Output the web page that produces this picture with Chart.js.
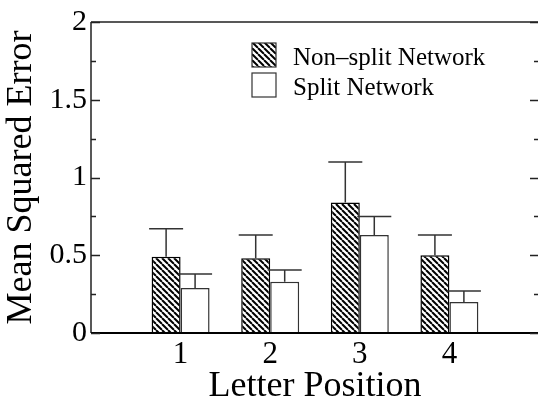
<!DOCTYPE html>
<html>
<head>
<meta charset="utf-8">
<script src="https://cdn.jsdelivr.net/npm/chart.js@4.4.0/dist/chart.umd.min.js"></script>
<style>
html, body { margin: 0; padding: 0; background: #fff; overflow: hidden; }
#wrap { width: 545px; height: 403px; }
</style>
</head>
<body>
<div id="wrap"><canvas id="grafico" width="545" height="403"></canvas></div>
<script>
const posiciones = ['', '1', '2', '3', '4', ''];
const noDividida = [null, 0.49, 0.48, 0.84, 0.50, null];
const noDivididaErr = [null, 0.18, 0.15, 0.26, 0.13, null];
const dividida = [null, 0.29, 0.33, 0.63, 0.20, null];
const divididaErr = [null, 0.09, 0.075, 0.12, 0.07, null];
const yMayores = [0, 0.5, 1, 1.5, 2];
const yMenores = [0.25, 0.75, 1.25, 1.75];
const etiquetas = ['Non\u2013split Network', 'Split Network'];

const fuente = '"Liberation Serif", "Times New Roman", serif';
const canvas = document.getElementById('grafico');
const ctxMain = canvas.getContext('2d');

function rayado() {
  const s = 6;
  const c = document.createElement('canvas');
  c.width = s; c.height = s;
  const g = c.getContext('2d');
  g.fillStyle = '#fff';
  g.fillRect(0, 0, s, s);
  g.strokeStyle = '#000';
  g.lineWidth = 2;
  for (let k = -1; k <= 1; k++) {
    g.beginPath();
    g.moveTo(k * s, 0);
    g.lineTo(k * s + s, s);
    g.stroke();
  }
  return ctxMain.createPattern(c, 'repeat');
}
const patron = rayado();

const barrasError = {
  id: 'barrasError',
  afterDatasetsDraw(chart) {
    const ctx = chart.ctx;
    const y = chart.scales.y;
    const errores = [noDivididaErr, divididaErr];
    ctx.save();
    ctx.strokeStyle = '#333';
    ctx.lineWidth = 1.5;
    errores.forEach((errs, d) => {
      const meta = chart.getDatasetMeta(d);
      meta.data.forEach((bar, i) => {
        if (errs[i] == null) return;
        const v = chart.data.datasets[d].data[i];
        const yTop = y.getPixelForValue(v + errs[i]);
        const half = 17;
        ctx.beginPath();
        ctx.moveTo(bar.x, bar.y);
        ctx.lineTo(bar.x, yTop);
        ctx.moveTo(bar.x - half, yTop);
        ctx.lineTo(bar.x + half, yTop);
        ctx.stroke();
      });
    });
    ctx.restore();
  }
};

const marco = {
  id: 'marco',
  afterDraw(chart) {
    const ctx = chart.ctx;
    const a = chart.chartArea;
    const y = chart.scales.y;
    ctx.save();
    ctx.strokeStyle = '#222';
    ctx.lineWidth = 1.5;
    ctx.beginPath();
    ctx.moveTo(a.left, a.top);
    ctx.lineTo(a.left, a.bottom);
    ctx.moveTo(a.left, a.top);
    ctx.lineTo(a.right, a.top);
    ctx.moveTo(a.right, a.top);
    ctx.lineTo(a.right, a.bottom);
    ctx.stroke();
    ctx.strokeStyle = '#000';
    ctx.lineWidth = 2;
    ctx.beginPath();
    ctx.moveTo(a.left, a.bottom);
    ctx.lineTo(a.right, a.bottom);
    ctx.stroke();

    ctx.strokeStyle = '#222';
    ctx.lineWidth = 1.5;
    ctx.beginPath();
    yMayores.forEach(v => {
      const py = Math.round(y.getPixelForValue(v)) + 0.5;
      ctx.moveTo(a.left, py); ctx.lineTo(a.left + 9, py);
      ctx.moveTo(a.right, py); ctx.lineTo(a.right - 9, py);
    });
    yMenores.forEach(v => {
      const py = Math.round(y.getPixelForValue(v)) + 0.5;
      ctx.moveTo(a.left, py); ctx.lineTo(a.left + 5, py);
      ctx.moveTo(a.right, py); ctx.lineTo(a.right - 5, py);
    });
    ctx.stroke();

    // leyenda
    const lx = 252, ly = [43, 73];
    const fills = [patron, '#fff'];
    ctx.font = '25px ' + fuente;
    ctx.textBaseline = 'alphabetic';
    etiquetas.forEach((t, i) => {
      ctx.fillStyle = fills[i];
      ctx.fillRect(lx, ly[i], 24, 24);
      ctx.strokeStyle = '#333';
      ctx.lineWidth = 1.2;
      ctx.strokeRect(lx, ly[i], 24, 24);
      ctx.fillStyle = '#000';
      ctx.fillText(t, 293, ly[i] + 22);
    });
    ctx.restore();
  }
};

new Chart(canvas, {
  type: 'bar',
  data: {
    labels: posiciones,
    datasets: [
      {
        label: etiquetas[0],
        data: noDividida,
        backgroundColor: patron,
        borderColor: '#000',
        borderWidth: 1.5,
        categoryPercentage: 0.647,
        barPercentage: 1.0
      },
      {
        label: etiquetas[1],
        data: dividida,
        backgroundColor: '#fff',
        borderColor: '#333',
        borderWidth: 1.5,
        categoryPercentage: 0.647,
        barPercentage: 1.0
      }
    ]
  },
  options: {
    responsive: false,
    animation: false,
    layout: { padding: { top: 16, right: 6, left: 0, bottom: 0 } },
    plugins: {
      legend: { display: false },
      tooltip: { enabled: false }
    },
    scales: {
      x: {
        offset: false,
        grid: { display: false, drawTicks: false },
        border: { display: false },
        ticks: { color: '#000', padding: 3, font: { family: fuente, size: 31 } },
        title: {
          display: true,
          text: 'Letter Position',
          color: '#000',
          padding: { top: 0, bottom: -5 },
          font: { family: fuente, size: 36 }
        },
        afterFit: s => { s.height = 70; }
      },
      y: {
        min: 0,
        max: 2,
        grid: { display: false, drawTicks: false },
        border: { display: false },
        ticks: {
          stepSize: 0.5,
          color: '#000',
          padding: 4,
          font: { family: fuente, size: 30 },
          callback: v => String(v)
        },
        title: {
          display: true,
          text: 'Mean Squared Error',
          color: '#000',
          padding: { top: 0, bottom: 4 },
          font: { family: fuente, size: 36 }
        },
        afterFit: s => { s.width = 91; }
      }
    }
  },
  plugins: [barrasError, marco]
});
</script>
</body>
</html>
